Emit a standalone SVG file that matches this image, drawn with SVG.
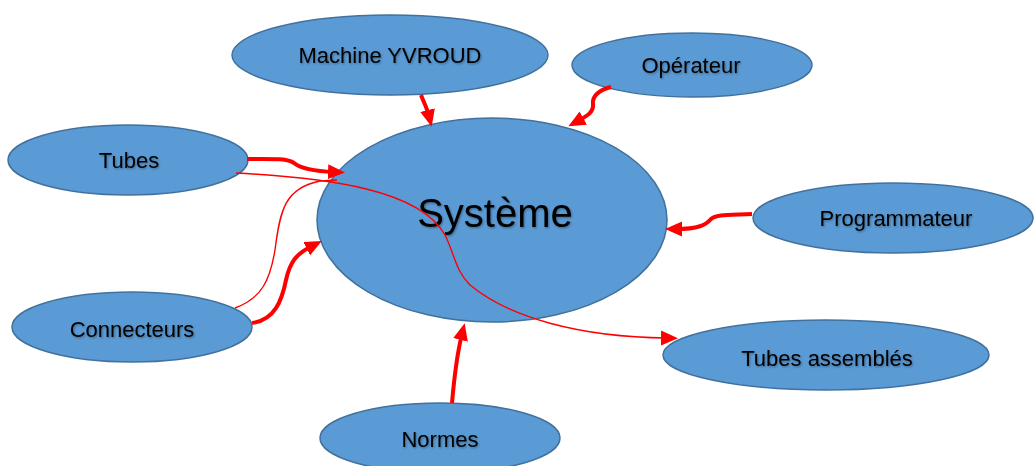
<svg xmlns="http://www.w3.org/2000/svg" width="1036" height="466" viewBox="0 0 1036 466">
  <style>
    .node ellipse { fill: #5B9BD5; stroke: #41719C; stroke-width: 1.5; }
    .node text { font-family: "Liberation Sans", Arial, sans-serif; font-size: 22px; fill: #000; text-anchor: middle; filter: url(#tshadow); }
    .node text.big { font-size: 40px; }
    .thick { fill: none; stroke: #FF0000; stroke-width: 4; marker-end: url(#arrow); }
    .thin { fill: none; stroke: #FF0000; stroke-width: 1.4; }
    .thin.arr { marker-end: url(#arrow); }
  </style>
  <defs>
    <filter id="tshadow" x="-10%" y="-30%" width="120%" height="160%">
      <feDropShadow dx="1" dy="1.2" stdDeviation="0.9" flood-color="#000" flood-opacity="0.35"/>
    </filter>
    <marker id="arrow" markerUnits="userSpaceOnUse" markerWidth="18" markerHeight="16" refX="6" refY="7.5" orient="auto" viewBox="0 0 18 16">
      <path d="M0,0 L17,7.5 L0,15 z" fill="#FF0000"/>
    </marker>
  </defs>
  <rect width="1036" height="466" fill="#FFFFFF"/>

  <g id="node-machine" class="node">
    <ellipse cx="390" cy="55" rx="158" ry="40"/>
    <text x="390" y="63">Machine YVROUD</text>
  </g>
  <g id="node-operateur" class="node">
    <ellipse cx="692" cy="65" rx="120" ry="32"/>
    <text x="691" y="73">Opérateur</text>
  </g>
  <g id="node-tubes" class="node">
    <ellipse cx="128" cy="160" rx="120" ry="35"/>
    <text x="129" y="168">Tubes</text>
  </g>
  <g id="node-systeme" class="node">
    <ellipse cx="492" cy="220" rx="175" ry="102"/>
    <text class="big" x="495" y="227">Système</text>
  </g>
  <g id="node-programmateur" class="node">
    <ellipse cx="893" cy="218" rx="140" ry="35"/>
    <text x="896" y="226">Programmateur</text>
  </g>
  <g id="node-connecteurs" class="node">
    <ellipse cx="132" cy="327" rx="120" ry="35"/>
    <text x="132" y="337">Connecteurs</text>
  </g>
  <g id="node-tubes-assembles" class="node">
    <ellipse cx="826" cy="355" rx="163" ry="35"/>
    <text x="827" y="366">Tubes assemblés</text>
  </g>
  <g id="node-normes" class="node">
    <ellipse cx="440" cy="438" rx="120" ry="35"/>
    <text x="440" y="447">Normes</text>
  </g>

  <g id="connectors">
    <path class="thick" d="M421,95 C424,103 427,108 429,116"/>
    <path class="thick" d="M611,87 C598,90 592,97 593,104 C594,112 587,116 578,121"/>
    <path class="thick" d="M247,159 C270,159 287,158 294,163 C300,168 310,171 334,172"/>
    <path class="thick" d="M252,323 C275,320 282,300 286,280 C290,262 296,254 312,246"/>
    <path class="thick" d="M752,214 C730,215 716,214 711,219 C706,225 698,229 676,229"/>
    <path class="thick" d="M452,403 C454,380 456,358 462,334"/>
    <path class="thin arr" d="M236,173 C330,178 420,190 445,235 C455,255 455,270 470,285 C510,318 580,337 667,338"/>
    <path class="thin" d="M235,308 C262,298 270,280 275,250 C280,210 285,188 320,181 L337,180"/>
  </g>
</svg>
